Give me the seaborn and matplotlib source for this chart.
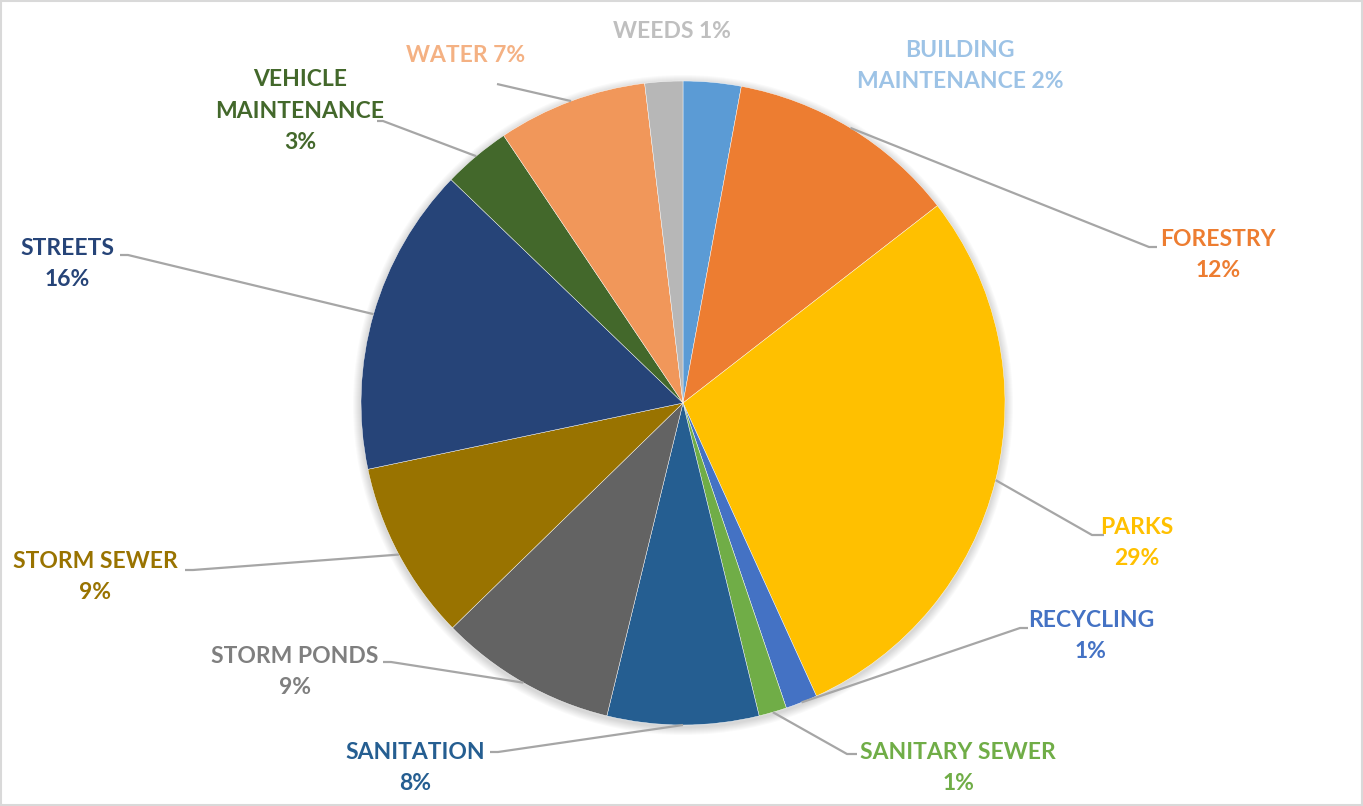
import numpy as np
import matplotlib.pyplot as plt
import seaborn as sns
from matplotlib.patches import Circle, Rectangle

sns.set_style("white")
plt.rcParams['font.family'] = ['Lato', 'DejaVu Sans']

# данные (по часовой стрелке от 12 часов)
categories = ["BUILDING MAINTENANCE", "FORESTRY", "PARKS", "RECYCLING", "SANITARY SEWER",
              "SANITATION", "STORM PONDS", "STORM SEWER", "STREETS", "VEHICLE MAINTENANCE",
              "WATER", "WEEDS"]
shares = [2.9, 11.6, 28.7, 1.6, 1.4, 7.6, 8.9, 9.0, 15.5, 3.4, 7.5, 1.9]
pct_labels = ["2%", "12%", "29%", "1%", "1%", "8%", "9%", "9%", "16%", "3%", "7%", "1%"]
label_text = ["BUILDING\nMAINTENANCE {}", "FORESTRY\n{}", "PARKS\n{}", "RECYCLING\n{}",
              "SANITARY SEWER\n{}", "SANITATION\n{}", "STORM PONDS\n{}", "STORM SEWER\n{}",
              "STREETS\n{}", "VEHICLE\nMAINTENANCE\n{}", "WATER {}", "WEEDS {}"]

slice_colors = sns.color_palette(["#5B9BD5", "#ED7D31", "#FFC000", "#4472C4", "#70AD47", "#255E91",
                                  "#636363", "#997300", "#264478", "#43682B", "#F1975A", "#B7B7B7"])
text_colors = ["#9DC3E6", "#ED7D31", "#FFC000", "#4472C4", "#70AD47", "#255E91",
               "#7F7F7F", "#997300", "#264478", "#43682B", "#F4B183", "#BFBFBF"]

# раскладка подписей (пиксели от верхнего левого угла)
W, H = 1363, 806
cx, cy, R = 683, 403, 322
text_pos = [(960, 66), (1218, 255), (1137, 543), (1091, 636), (958, 768), (415, 768),
            (295, 672), (95, 577), (67, 264), (300, 111), (466, 55), (672, 31)]
line_anchor = [None, (1157, 247), (1104, 535), (1028, 628), (857, 754), (490, 752),
               (383, 662), (185, 570), (120, 255), (377, 121), (497, 84), None]
stubs = [0, -8, -12, -8, -10, 8, 8, 8, 8, 6, 0, 0]

fig = plt.figure(figsize=(W / 100, H / 100), dpi=100)
ax = fig.add_axes([0, 0, 1, 1])

# лёгкая тень вокруг круга
for k in range(1, 9):
    ax.add_patch(Circle((cx, H - cy - 2), R + k, color='black', alpha=0.018, lw=0, zorder=0))

wedges, _ = ax.pie(shares, colors=slice_colors, startangle=90, counterclock=False,
                   radius=R, center=(cx, H - cy), frame=True,
                   wedgeprops=dict(edgecolor='white', linewidth=0.3))
ax.set_xlim(0, W)
ax.set_ylim(0, H)
ax.set_aspect('equal')
ax.axis('off')

for i, w in enumerate(wedges):
    tx, ty = text_pos[i]
    ax.text(tx, H - ty, label_text[i].format(pct_labels[i]), color=text_colors[i],
            fontsize=16.5, fontweight='bold', ha='center', va='center', linespacing=1.6,
            zorder=5)
    if line_anchor[i] is None:
        continue
    mid = np.deg2rad((w.theta1 + w.theta2) / 2)
    ex, ey = cx + R * np.cos(mid), (H - cy) + R * np.sin(mid)
    axx, ayy = line_anchor[i][0], H - line_anchor[i][1]
    ax.plot([axx, axx + stubs[i], ex], [ayy, ayy, ey], color='#A6A6A6', lw=1.6, zorder=4,
            solid_capstyle='butt')

ax.add_patch(Rectangle((1, 1), W - 2, H - 2, fill=False, edgecolor='#D9D9D9', lw=1.5, zorder=6))

fig.savefig('out.png', dpi=100)
